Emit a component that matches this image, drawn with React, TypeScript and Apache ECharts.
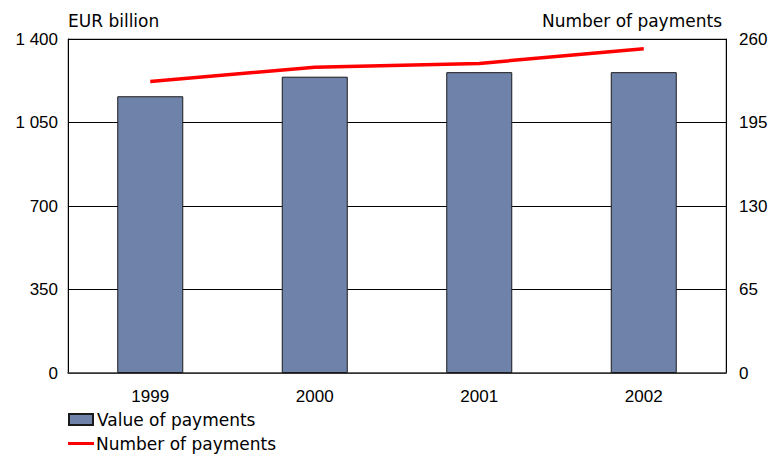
import React, { useEffect, useRef } from "react";
import * as echarts from "echarts";

const categories = ["1999", "2000", "2001", "2002"];
const valueOfPayments = [1160, 1242, 1261, 1261];
const numberOfPayments = [227, 238, 241, 252.5];
const leftTitle = "EUR billion";
const rightTitle = "Number of payments";

const FONT = "'DejaVu Sans', 'Liberation Sans', Arial, sans-serif";
const NUMFONT = "'Liberation Sans', Arial, sans-serif";
const FS = 17;

export default function App() {
  const ref = useRef<HTMLDivElement>(null);
  useEffect(() => {
    if (!ref.current) return;
    const chart = echarts.init(ref.current, null, { renderer: "svg" });
    const fmt = (v: number) => String(v).replace(/\B(?=(\d{3})+(?!\d))/g, " ");
    chart.setOption({
      animation: false,
      textStyle: { fontFamily: FONT },
      grid: {
        left: 68,
        right: 42,
        top: 39,
        bottom: 83,
        outerBoundsMode: "none",
        containLabel: false,
        show: true,
        borderColor: "#8a8a8a",
        borderWidth: 1,
        backgroundColor: "transparent",
      },
      graphic: [
        {
          type: "text",
          left: 68,
          top: 12,
          style: { text: leftTitle, font: `${FS}px ${FONT}`, fill: "#000" },
        },
        {
          type: "text",
          right: 46,
          top: 12,
          style: { text: rightTitle, font: `${FS}px ${FONT}`, fill: "#000" },
        },
      ],
      legend: [
        {
          left: 68,
          top: 411,
          padding: 0,
          orient: "vertical",
          itemWidth: 24,
          itemHeight: 11,
          textStyle: { fontSize: FS, color: "#000", fontFamily: FONT, padding: [0, 0, 0, -1] },
          data: [{ name: "Value of payments", icon: "rect" }],
        },
        {
          left: 68,
          top: 435,
          padding: 0,
          orient: "vertical",
          itemWidth: 26,
          itemHeight: 12,
          textStyle: { fontSize: FS, color: "#000", fontFamily: FONT, padding: [0, 0, 0, -3] },
          data: [{ name: "Number of payments", icon: "path://M0,0L26,0L26,3L0,3Z" }],
        },
      ],
      xAxis: {
        type: "category",
        data: categories,
        axisLine: { show: true, lineStyle: { color: "#444", width: 1.5 } },
        axisTick: { show: false },
        axisLabel: { fontSize: FS, color: "#000", margin: 15, fontFamily: NUMFONT },
      },
      yAxis: [
        {
          type: "value",
          min: 0,
          max: 1400,
          interval: 350,
          position: "left",
          axisLine: { show: true, lineStyle: { color: "#000", width: 1 } },
          axisTick: { show: false },
          splitLine: { show: true, lineStyle: { color: "#000", width: 1 } },
          axisLabel: { fontSize: FS, color: "#000", margin: 10, formatter: fmt, fontFamily: NUMFONT },
        },
        {
          type: "value",
          min: 0,
          max: 260,
          interval: 65,
          position: "right",
          axisLine: { show: true, lineStyle: { color: "#000", width: 1 } },
          axisTick: { show: false },
          splitLine: { show: false },
          axisLabel: { fontSize: FS, color: "#000", margin: 13, fontFamily: NUMFONT },
        },
      ],
      series: [
        {
          name: "Value of payments",
          type: "bar",
          data: valueOfPayments,
          yAxisIndex: 0,
          barWidth: 66,
          itemStyle: { color: "#6f83aa", borderColor: "#1a1a1a", borderWidth: 1 },
        },
        {
          name: "Number of payments",
          type: "line",
          data: numberOfPayments,
          yAxisIndex: 1,
          symbol: "none",
          lineStyle: { color: "#ff0000", width: 3.5 },
          itemStyle: { color: "#ff0000" },
        },
      ],
    });
    return () => chart.dispose();
  }, []);
  return <div ref={ref} style={{ width: 768, height: 456, position: "absolute", left: 0, top: 0 }} />;
}
